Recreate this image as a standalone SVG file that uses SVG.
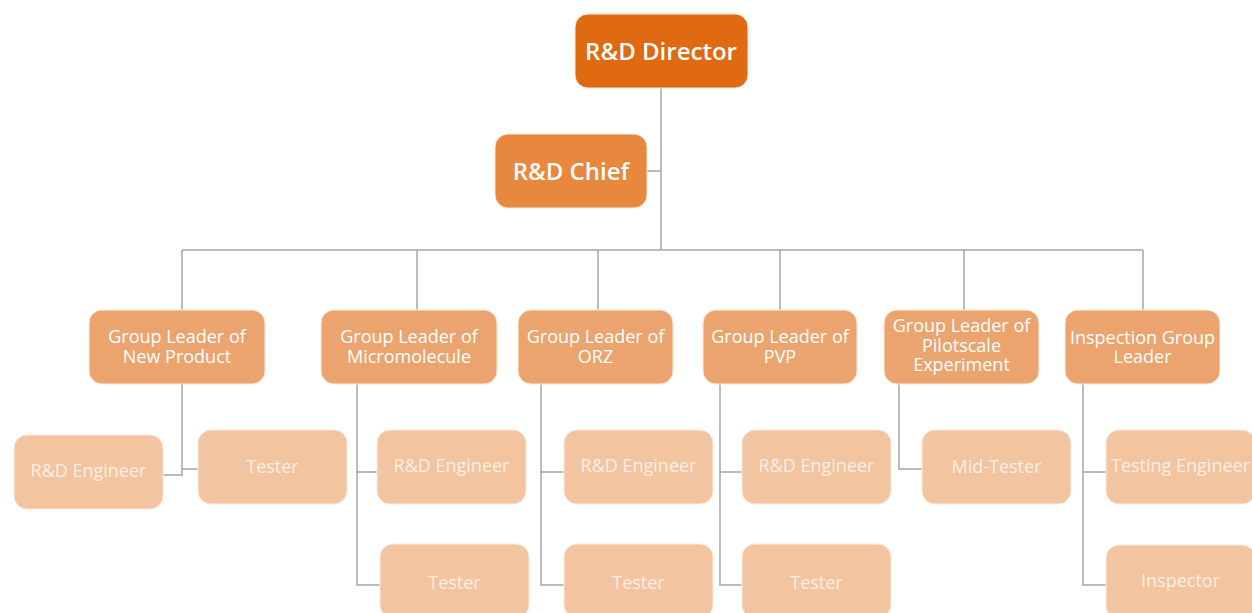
<svg xmlns="http://www.w3.org/2000/svg" width="1252" height="613" viewBox="0 0 1252 613">
<style>
.l{fill:none;stroke:#A6A6A6;stroke-width:1.5}
.b{stroke:#FBE9DC;stroke-width:1}
.top{fill:#E06A12}
.chief{fill:#E8883F}
.gl{fill:#ECA46F}
.ch{fill:#F3C4A0}
text{font-family:"Open Sans","Noto Sans","Liberation Sans",sans-serif;text-anchor:middle}
.t1{font-size:24px;font-weight:600;fill:#FFFFFF}
.t2{font-size:18px;fill:#FFFFFF}
.t3{font-size:18px;fill:#FCEEE3}
</style>
<g id="connectors">
<path class="l" d="M661 88V250M647 171H661M182 250H1143M182 250V310M417 250V310M598 250V310M780 250V310M964 250V310M1143 250V310"/>
<path class="l" d="M182 384V475H163M182 469H198"/>
<path class="l" d="M357 384V585H380M357 472H377"/>
<path class="l" d="M541 384V585H564M541 472H564"/>
<path class="l" d="M720 384V585H742M720 472H742"/>
<path class="l" d="M899 384V469H922"/>
<path class="l" d="M1083 384V585H1106M1083 472H1106"/>
</g>
<g id="director"><rect class="b top" x="575" y="14" width="173" height="74" rx="13"/><text class="t1" x="661" y="60">R&amp;D Director</text></g>
<g id="chief"><rect class="b chief" x="495" y="134" width="152" height="74" rx="13"/><text class="t1" x="571" y="180">R&amp;D Chief</text></g>
<g id="gl-newproduct"><rect class="b gl" x="89" y="310" width="176" height="74" rx="13"/><text class="t2" x="177" y="343">Group Leader of</text><text class="t2" x="177" y="363">New Product</text></g>
<g id="gl-micro"><rect class="b gl" x="321" y="310" width="176" height="74" rx="13"/><text class="t2" x="409" y="343">Group Leader of</text><text class="t2" x="409" y="363">Micromolecule</text></g>
<g id="gl-orz"><rect class="b gl" x="518" y="310" width="155" height="74" rx="13"/><text class="t2" x="595.5" y="343">Group Leader of</text><text class="t2" x="595.5" y="363">ORZ</text></g>
<g id="gl-pvp"><rect class="b gl" x="703" y="310" width="154" height="74" rx="13"/><text class="t2" x="780" y="343">Group Leader of</text><text class="t2" x="780" y="363">PVP</text></g>
<g id="gl-pilot"><rect class="b gl" x="884" y="310" width="155" height="74" rx="13"/><text class="t2" x="961.5" y="332">Group Leader of</text><text class="t2" x="961.5" y="352">Pilotscale</text><text class="t2" x="961.5" y="371">Experiment</text></g>
<g id="gl-inspection"><rect class="b gl" x="1065" y="310" width="155" height="74" rx="13"/><text class="t2" x="1142.5" y="344">Inspection Group</text><text class="t2" x="1142.5" y="363">Leader</text></g>
<g id="np-engineer"><rect class="b ch" x="14" y="435" width="149" height="74" rx="13"/><text class="t3" x="88.5" y="477">R&amp;D Engineer</text></g>
<g id="np-tester"><rect class="b ch" x="198" y="430" width="149" height="74" rx="13"/><text class="t3" x="272.5" y="473">Tester</text></g>
<g id="mm-engineer"><rect class="b ch" x="377" y="430" width="149" height="74" rx="13"/><text class="t3" x="451.5" y="472">R&amp;D Engineer</text></g>
<g id="mm-tester"><rect class="b ch" x="380" y="544" width="149" height="74" rx="13"/><text class="t3" x="454.5" y="589">Tester</text></g>
<g id="orz-engineer"><rect class="b ch" x="564" y="430" width="149" height="74" rx="13"/><text class="t3" x="638.5" y="472">R&amp;D Engineer</text></g>
<g id="orz-tester"><rect class="b ch" x="564" y="544" width="149" height="74" rx="13"/><text class="t3" x="638.5" y="589">Tester</text></g>
<g id="pvp-engineer"><rect class="b ch" x="742" y="430" width="149" height="74" rx="13"/><text class="t3" x="816.5" y="472">R&amp;D Engineer</text></g>
<g id="pvp-tester"><rect class="b ch" x="742" y="544" width="149" height="74" rx="13"/><text class="t3" x="816.5" y="589">Tester</text></g>
<g id="pilot-midtester"><rect class="b ch" x="922" y="430" width="149" height="74" rx="13"/><text class="t3" x="996.5" y="473">Mid-Tester</text></g>
<g id="insp-engineer"><rect class="b ch" x="1106" y="430" width="149" height="74" rx="13"/><text class="t3" x="1180.5" y="472">Testing Engineer</text></g>
<g id="insp-inspector"><rect class="b ch" x="1106" y="545" width="149" height="74" rx="13"/><text class="t3" x="1180.5" y="587">Inspector</text></g>
</svg>
